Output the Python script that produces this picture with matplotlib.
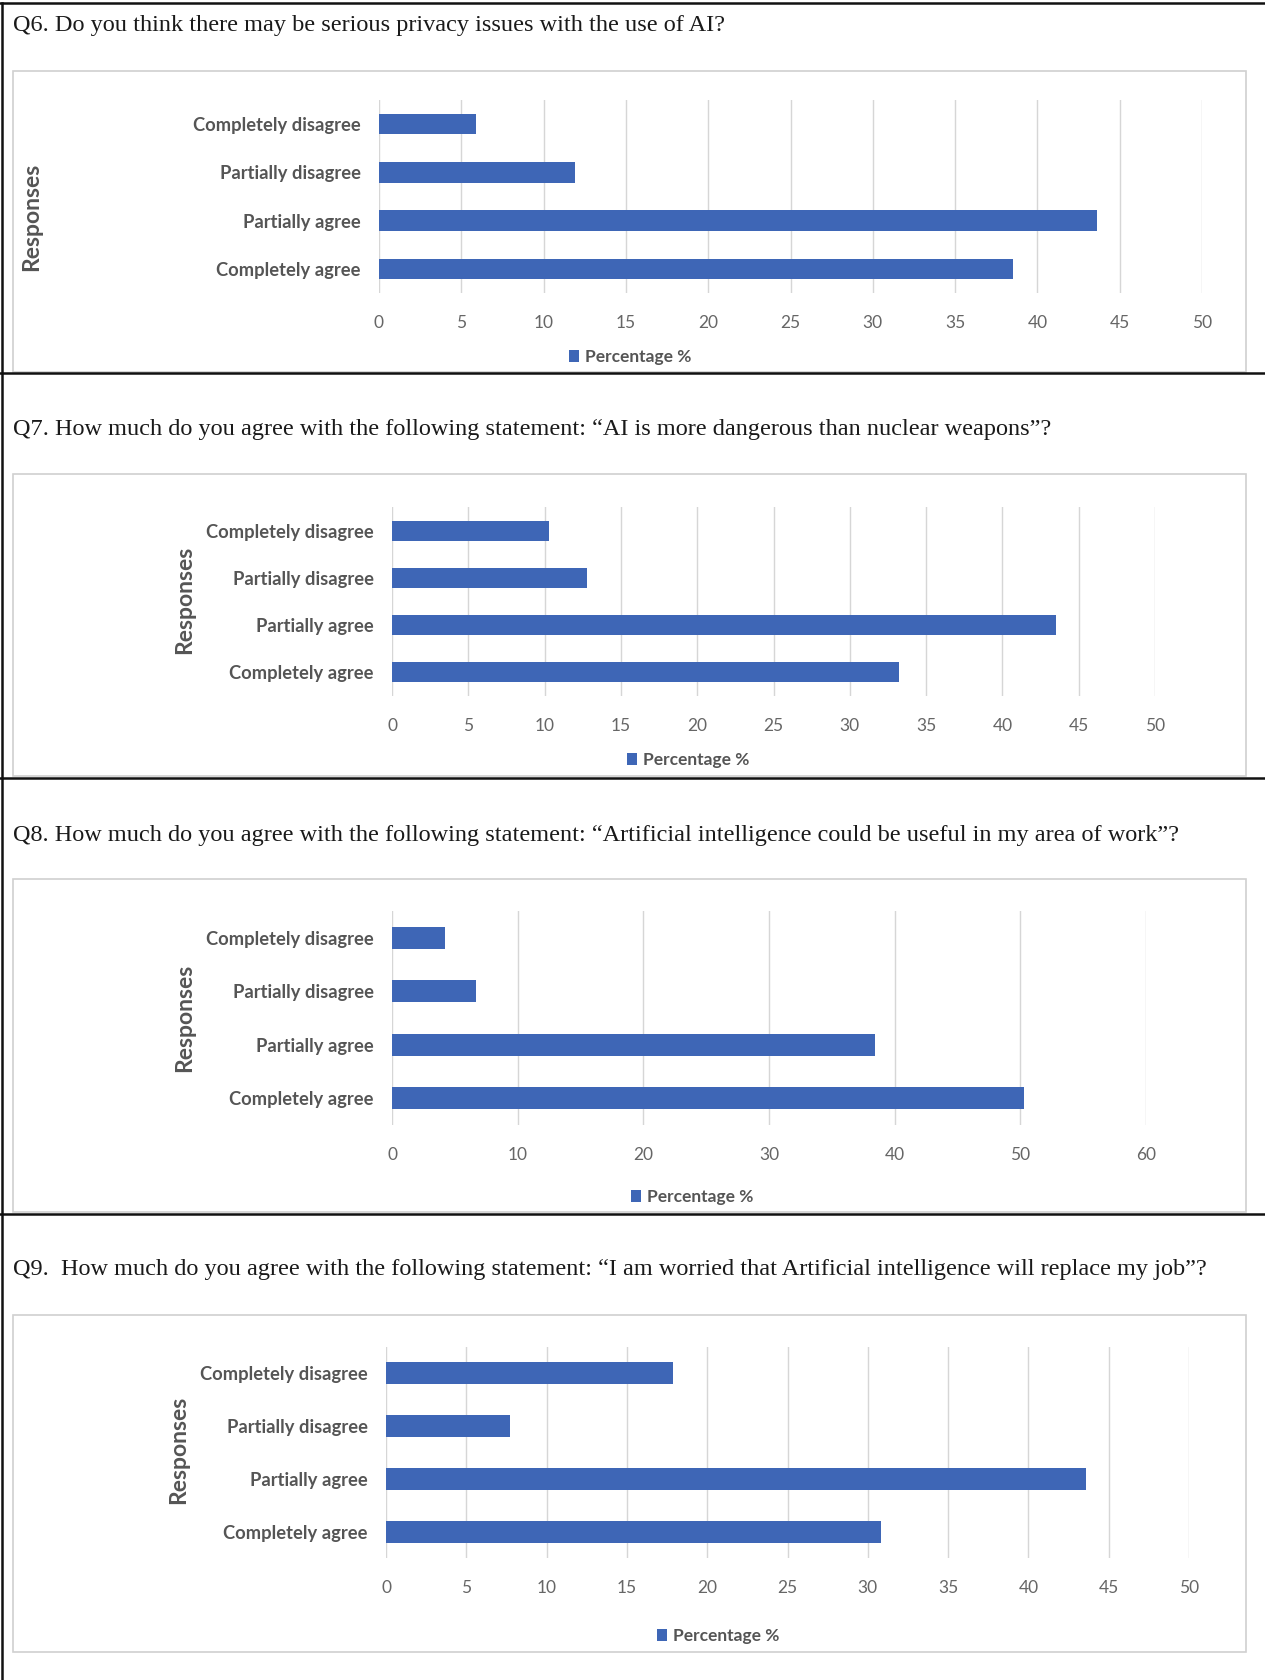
import matplotlib
matplotlib.use("Agg")
import matplotlib.pyplot as plt
from matplotlib.lines import Line2D
from matplotlib.patches import Rectangle, Patch

# ---------------- data ----------------
categories = ["Completely disagree", "Partially disagree", "Partially agree", "Completely agree"]

titles = [
    "Q6. Do you think there may be serious privacy issues with the use of AI?",
    "Q7. How much do you agree with the following statement: \u201cAI is more dangerous than nuclear weapons\u201d?",
    "Q8. How much do you agree with the following statement: \u201cArtificial intelligence could be useful in my area of work\u201d?",
    "Q9.  How much do you agree with the following statement: \u201cI am worried that Artificial intelligence will replace my job\u201d?",
]

q6_values = [5.9, 11.9, 43.6, 38.5]
q7_values = [10.3, 12.8, 43.5, 33.2]
q8_values = [4.2, 6.7, 38.4, 50.3]
q9_values = [17.9, 7.7, 43.6, 30.8]

x_max = [50, 50, 60, 50]
x_step = [5, 5, 10, 5]

legend_label = "Percentage %"
y_label = "Responses"

# ---------------- layout (pixels in a 1265x1680 canvas) ----------------
W, H = 1265, 1680
# axes: (x_left, x_right, y_top, y_bottom)
axes_px = [
    (379, 1202, 100, 293),
    (392, 1155, 507, 696),
    (392, 1146, 911, 1125),
    (386, 1189, 1347, 1558),
]
title_y = [25, 430, 835, 1270]
box_px = [(13, 1246, 71, 372), (13, 1246, 474, 776), (13, 1246, 879, 1212), (13, 1246, 1315, 1652)]
legend_xy = [(630, 357), (688, 760), (692, 1197), (718, 1636)]
ylabel_xy = [(32, 217), (185, 600), (185, 1018), (179, 1450)]
separators = [3, 373, 778, 1214]

BAR = "#3E66B6"
GRID = "#D6D6D6"
TXT = "#555555"
SANS = ["Lato", "DejaVu Sans"]
SERIF = ["Liberation Serif", "DejaVu Serif"]

fig = plt.figure(figsize=(W / 100, H / 100), dpi=100)
fig.patch.set_facecolor("white")

def fx(x):
    return x / W

def fy(y):
    return 1 - y / H

# borders
for y in separators:
    fig.add_artist(Line2D([0, 1], [fy(y), fy(y)], color="#111111", lw=1.8, transform=fig.transFigure))
fig.add_artist(Line2D([fx(2), fx(2)], [fy(3), 0], color="#111111", lw=1.8, transform=fig.transFigure))

all_values = [q6_values, q7_values, q8_values, q9_values]

for i, vals in enumerate(all_values):
    bx0, bx1, by0, by1 = box_px[i]
    fig.add_artist(Rectangle((fx(bx0), fy(by1)), fx(bx1) - fx(bx0), fy(by0) - fy(by1),
                             transform=fig.transFigure, fill=False, edgecolor="#D0D0D0", lw=1.2))
    fig.text(fx(13), fy(title_y[i]), titles[i], family=SERIF, fontsize=17.5,
             color="#1a1a1a", ha="left", va="center")

    x0, x1, y0, y1 = axes_px[i]
    ax = fig.add_axes([fx(x0), fy(y1), fx(x1) - fx(x0), fy(y0) - fy(y1)])
    ypos = list(range(len(categories)))
    ax.barh(ypos, vals, height=0.42, color=BAR, zorder=3)
    ax.set_ylim(3.5, -0.5)
    ax.set_xlim(0, x_max[i])
    ticks = list(range(0, x_max[i] + 1, x_step[i]))
    ax.set_xticks(ticks)
    ax.set_xticklabels([str(t) for t in ticks], family=SANS, fontsize=12.5, color="#666666")
    ax.set_yticks(ypos)
    ax.set_yticklabels(categories, family=SANS, fontsize=13.2, fontweight="bold", color=TXT)
    ax.tick_params(axis="x", length=0, pad=16)
    ax.tick_params(axis="y", length=0, pad=13)
    ax.grid(axis="x", color=GRID, lw=1, zorder=0)
    for s in ax.spines.values():
        s.set_visible(False)
    ax.set_facecolor("none")

    lx, ly = legend_xy[i]
    leg = fig.legend([Patch(facecolor=BAR)], [legend_label], loc="center",
                     bbox_to_anchor=(fx(lx), fy(ly)), frameon=False,
                     prop={"family": SANS, "size": 12.5, "weight": "bold"},
                     handlelength=0.6, handleheight=0.7, handletextpad=0.3)
    for t in leg.get_texts():
        t.set_color(TXT)

    yx, yy = ylabel_xy[i]
    fig.text(fx(yx), fy(yy), y_label, rotation=90, family=SANS, fontsize=16.5,
             fontweight="bold", color=TXT, ha="center", va="center")

fig.savefig("out.png", dpi=100, facecolor="white")
